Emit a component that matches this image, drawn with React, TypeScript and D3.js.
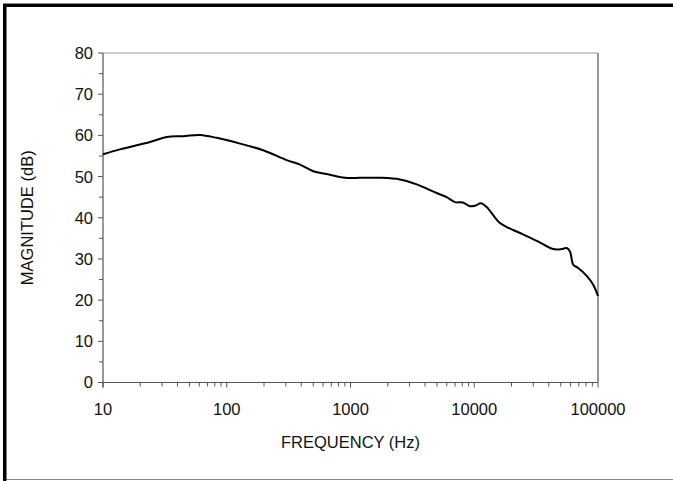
import React from "react";
import * as d3 from "d3";

const freqHz = [10, 13.7, 24, 32.7, 44.6, 60.8, 83, 128, 197, 305, 391, 501, 642, 903, 1200, 1730, 2510, 3430, 4970, 5985, 6990, 8070, 9240, 10140, 11350, 12600, 15850, 18300, 23400, 32000, 43500, 50800, 55800, 59400, 63100, 69200, 81000, 91700, 100000];
const magnitudeDb = [55.4, 56.6, 58.4, 59.6, 59.8, 60.1, 59.4, 58.0, 56.4, 54.0, 52.9, 51.3, 50.6, 49.7, 49.7, 49.7, 49.3, 48.1, 46.0, 45.0, 43.8, 43.7, 42.8, 42.9, 43.5, 42.6, 38.9, 37.75, 36.3, 34.4, 32.4, 32.4, 32.65, 31.8, 28.6, 27.8, 25.9, 23.7, 21.0];
const yTicks = [0, 10, 20, 30, 40, 50, 60, 70, 80];
const yMinorTicks = [5, 15, 25, 35, 45, 55, 65, 75];
const xTicks = [10, 100, 1000, 10000, 100000];
const xTickLabels = ["10", "100", "1000", "10000", "100000"];
const xTitle = "FREQUENCY (Hz)";
const yTitle = "MAGNITUDE (dB)";

export default function App() {
  const left = 103, right = 598, top = 53, bottom = 382.5;
  const x = d3.scaleLog().domain([10, 100000]).range([left, right]);
  const y = d3.scaleLinear().domain([0, 80]).range([bottom, top]);
  const minorX: number[] = [];
  for (let d = 10; d < 100000; d *= 10) for (let k = 2; k <= 9; k++) minorX.push(d * k);
  const pts = freqHz.map((f, i) => [f, magnitudeDb[i]] as [number, number]);
  const line = d3.line<[number, number]>().x(d => x(d[0])).y(d => y(d[1])).curve(d3.curveCatmullRom.alpha(0.5));
  const font = "'Liberation Sans', Arial, sans-serif";
  const fs = 16.5;
  const axisColor = "#555";
  return (
    <svg width={673} height={481} style={{ position: "absolute", left: 0, top: 0, background: "#fff" }}>
      {/* frame */}
      <rect x={3.5} y={3.5} width={700} height={476} fill="none" stroke="#888" strokeWidth={1} />
      <rect x={3} y={4} width={700} height={3} fill="#000" />
      <rect x={3} y={4} width={3.5} height={480} fill="#000" />
      {/* plot border */}
      <line x1={left} x2={right} y1={top} y2={top} stroke="#999" strokeWidth={1} />
      <line x1={right} x2={right} y1={top} y2={bottom} stroke={axisColor} strokeWidth={1.2} />
      {/* y axis */}
      <line x1={left} x2={left} y1={top} y2={bottom + 5} stroke={axisColor} strokeWidth={1.2} />
      {yTicks.map(t => (
        <g key={"y" + t}>
          <line x1={left - 5} x2={left} y1={y(t)} y2={y(t)} stroke={axisColor} />
          <text x={93} y={y(t)} dy="0.36em" textAnchor="end" fontFamily={font} fontSize={fs} fill="#111">{t}</text>
        </g>
      ))}
      {yMinorTicks.map(t => (
        <line key={"ym" + t} x1={left - 4} x2={left} y1={y(t)} y2={y(t)} stroke={axisColor} />
      ))}
      {/* x axis */}
      <line x1={left - 5} x2={right} y1={bottom} y2={bottom} stroke={axisColor} strokeWidth={1.2} />
      {xTicks.map((t, i) => (
        <g key={"x" + t}>
          <line x1={x(t)} x2={x(t)} y1={bottom} y2={bottom + 5} stroke={axisColor} />
          <text x={x(t)} y={415} textAnchor="middle" fontFamily={font} fontSize={fs} fill="#111">{xTickLabels[i]}</text>
        </g>
      ))}
      {minorX.map(t => (
        <line key={"xm" + t} x1={x(t)} x2={x(t)} y1={bottom} y2={bottom + 4} stroke={axisColor} />
      ))}
      <text x={(left + right) / 2} y={448} textAnchor="middle" fontFamily={font} fontSize={fs} fill="#111">{xTitle}</text>
      <text transform={`translate(33,${(top + bottom) / 2}) rotate(-90)`} textAnchor="middle" fontFamily={font} fontSize={fs} fill="#111">{yTitle}</text>
      {/* curve */}
      <path d={line(pts) || ""} fill="none" stroke="#000" strokeWidth={2} strokeLinejoin="round" />
    </svg>
  );
}
